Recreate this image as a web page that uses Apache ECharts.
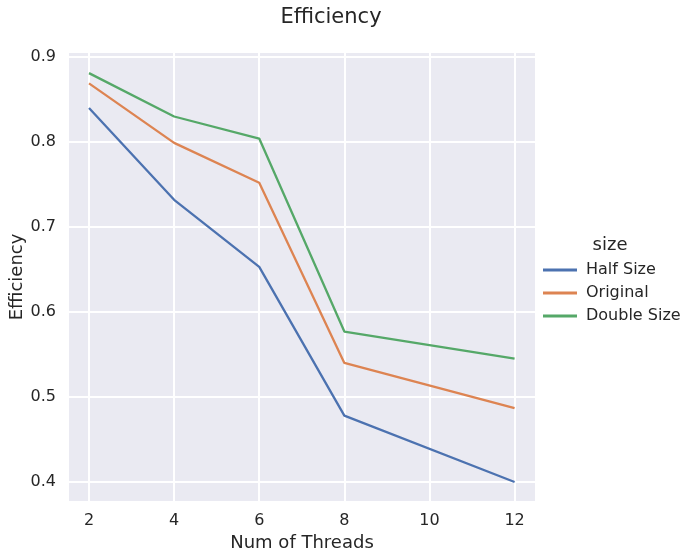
<!DOCTYPE html>
<html>
<head>
<meta charset="utf-8">
<script src="https://cdn.jsdelivr.net/npm/echarts@6/dist/echarts.min.js"></script>
<style>
  html, body { margin: 0; padding: 0; background: #fff; }
  #chart { width: 697px; height: 559px; }
</style>
</head>
<body>
<div id="chart"></div>
<script>
// threads on x axis
var threads = [2, 4, 6, 8, 12];
var xTicks = [2, 4, 6, 8, 10, 12];
var yTicks = [0.4, 0.5, 0.6, 0.7, 0.8, 0.9];

// efficiency per data size
var halfSize = [0.840, 0.732, 0.653, 0.478, 0.400];
var original = [0.869, 0.799, 0.752, 0.540, 0.487];
var doubleSize = [0.881, 0.830, 0.804, 0.577, 0.545];

var names = ['Half Size', 'Original', 'Double Size'];
var colors = ['#4c72b0', '#dd8452', '#55a868'];

function pairs(vals) {
    var res = [];
    for (var i = 0; i < threads.length; i++) {
        res.push([threads[i], vals[i]]);
    }
    return res;
}

var font = 'DejaVu Sans';
var chart = echarts.init(document.getElementById('chart'));

var option = {
    backgroundColor: '#fff',
    textStyle: { fontFamily: font },
    title: [{
        text: 'Efficiency',
        left: 326, top: 2, textAlign: 'center',
        textStyle: { fontFamily: font, fontSize: 21, fontWeight: 'normal', color: '#262626' }
    }, {
        text: 'size',
        left: 605, top: 231, textAlign: 'center',
        textStyle: { fontFamily: font, fontSize: 18, fontWeight: 'normal', color: '#262626' }
    }],
    legend: {
        orient: 'vertical',
        left: 538, top: 257,
        itemWidth: 34, itemHeight: 3, itemGap: 7,
        icon: 'rect',
        textStyle: { fontFamily: font, fontSize: 16, color: '#262626', padding: [0, 0, 0, 4] },
        data: names
    },
    grid: {
        left: 69, right: 162, top: 53, bottom: 58,
        outerBoundsMode: 'none', containLabel: false,
        show: true, backgroundColor: '#eaeaf2', borderWidth: 0
    },
    xAxis: {
        type: 'value',
        min: 1.53, max: 12.48,
        name: 'Num of Threads',
        nameLocation: 'middle', nameGap: 33, nameMoveOverlap: false,
        nameTextStyle: { fontFamily: font, fontSize: 18, color: '#262626' },
        axisLine: { show: false },
        axisTick: { show: false, customValues: xTicks },
        axisLabel: { customValues: xTicks, fontFamily: font, fontSize: 16, color: '#262626', margin: 12 },
        splitLine: { show: true, lineStyle: { color: '#fff', width: 2 } }
    },
    yAxis: {
        type: 'value',
        min: 0.3776, max: 0.9047,
        name: 'Efficiency',
        nameLocation: 'middle', nameGap: 43, nameMoveOverlap: false,
        nameTextStyle: { fontFamily: font, fontSize: 18, color: '#262626' },
        axisLine: { show: false },
        axisTick: { show: false, customValues: yTicks },
        axisLabel: {
            customValues: yTicks, fontFamily: font, fontSize: 16, color: '#262626', margin: 13,
            formatter: function (v) { return v.toFixed(1); }
        },
        splitLine: { show: true, lineStyle: { color: '#fff', width: 2 } }
    },
    series: [halfSize, original, doubleSize].map(function (vals, i) {
        return {
            name: names[i],
            type: 'line',
            data: pairs(vals),
            showSymbol: false,
            symbol: 'none',
            color: colors[i],
            lineStyle: { width: 2.3, color: colors[i] },
            animation: false
        };
    })
};

chart.setOption(option);
</script>
</body>
</html>
